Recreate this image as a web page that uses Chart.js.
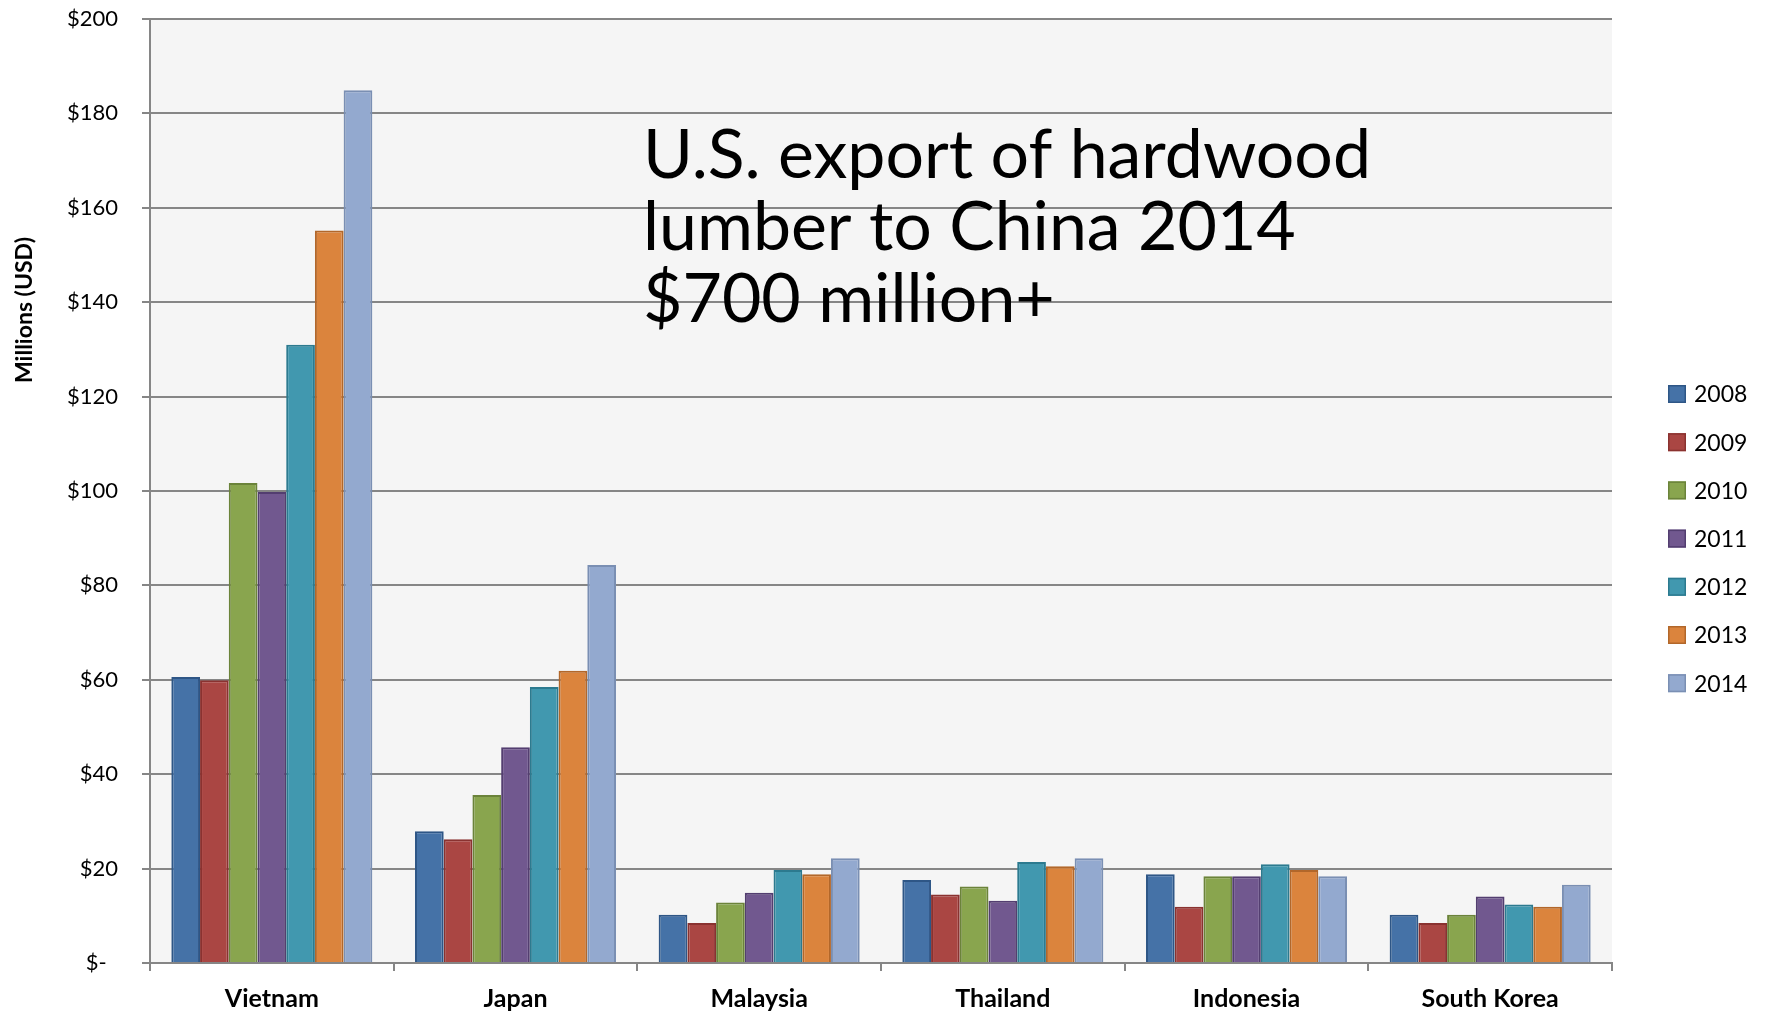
<!DOCTYPE html>
<html>
<head>
<meta charset="utf-8">
<script src="https://cdn.jsdelivr.net/npm/chart.js@4.4.1/dist/chart.umd.min.js"></script>
<style>
  html, body { margin: 0; padding: 0; background: #ffffff; }
  #wrap { width: 1765px; height: 1013px; }
</style>
</head>
<body>
<div id="wrap"><canvas id="hardwoodChart" width="1765" height="1013"></canvas></div>
<script>
// Hardwood lumber exports by destination, millions of USD
const countries = ['Vietnam', 'Japan', 'Malaysia', 'Thailand', 'Indonesia', 'South Korea'];
const years = ['2008', '2009', '2010', '2011', '2012', '2013', '2014'];

const v2008 = [60.6, 27.9, 10.2, 17.6, 18.8, 10.2];
const v2009 = [59.9, 26.2, 8.5, 14.5, 11.9, 8.5];
const v2010 = [101.7, 35.6, 12.8, 16.2, 18.4, 10.2];
const v2011 = [99.8, 45.7, 14.9, 13.2, 18.4, 14.1];
const v2012 = [131.0, 58.5, 19.7, 21.4, 20.9, 12.4];
const v2013 = [155.2, 61.9, 18.8, 20.5, 19.7, 11.9];
const v2014 = [184.9, 84.3, 22.2, 22.2, 18.4, 16.6];

const yTicks = [0, 20, 40, 60, 80, 100, 120, 140, 160, 180, 200];
const yTitle = 'Millions (USD)';
const headline = ['U.S. export of hardwood', 'lumber to China 2014', '$700 million+'];

const fills = ['#4572A7', '#AA4643', '#89A54E', '#71588F', '#4198AF', '#DB843D', '#93A9CF'];
const borders = ['#2E5686', '#8A3230', '#6B833A', '#533E70', '#2C7A8F', '#B2672A', '#7A8FB3'];

const FONT = 'Lato, "Open Sans", sans-serif';
const GRID = '#868686';

const seriesValues = [v2008, v2009, v2010, v2011, v2012, v2013, v2014];

// light grey plot area
const plotBackground = {
    id: 'plotBackground',
    beforeDraw(chart) {
        const { ctx, chartArea: a } = chart;
        ctx.save();
        ctx.fillStyle = '#F5F5F5';
        ctx.fillRect(a.left, a.top, a.right - a.left, a.bottom - a.top);
        ctx.restore();
    }
};

// headline, rotated axis title and the year legend
const extras = {
    id: 'extras',
    afterDraw(chart) {
        const { ctx } = chart;
        ctx.save();
        ctx.fillStyle = '#000000';

        ctx.font = '68px ' + FONT;
        ctx.textAlign = 'left';
        ctx.textBaseline = 'alphabetic';
        headline.forEach((line, i) => ctx.fillText(line, 643, 178 + i * 72));

        ctx.save();
        ctx.translate(32, 310);
        ctx.rotate(-Math.PI / 2);
        ctx.font = 'bold 23px ' + FONT;
        ctx.textAlign = 'center';
        ctx.textBaseline = 'alphabetic';
        ctx.fillText(yTitle, 0, 0);
        ctx.restore();

        ctx.font = '23px ' + FONT;
        ctx.textBaseline = 'middle';
        ctx.textAlign = 'left';
        chart.data.datasets.forEach((ds, i) => {
            const cy = 394 + i * 48.2;
            ctx.fillStyle = ds.backgroundColor;
            ctx.fillRect(1668, cy - 9, 18, 18);
            ctx.strokeStyle = ds.borderColor;
            ctx.lineWidth = 1.5;
            ctx.strokeRect(1668.75, cy - 8.25, 16.5, 16.5);
            ctx.fillStyle = '#000000';
            ctx.fillText(ds.label, 1694, cy + 1);
        });
        ctx.restore();
    }
};

new Chart(document.getElementById('hardwoodChart'), {
    type: 'bar',
    data: {
        labels: countries,
        datasets: years.map((y, i) => ({
            label: y,
            data: seriesValues[i],
            backgroundColor: fills[i],
            borderColor: borders[i],
            borderWidth: 2,
            categoryPercentage: 0.825,
            barPercentage: 1.0
        }))
    },
    options: {
        responsive: false,
        animation: false,
        layout: { padding: { top: 19, right: 153, bottom: 0, left: 0 } },
        plugins: {
            legend: { display: false },
            tooltip: { enabled: false }
        },
        scales: {
            y: {
                min: 0,
                max: 200,
                afterBuildTicks: s => { s.ticks = yTicks.map(v => ({ value: v })); },
                afterFit: s => {
                    s.width = 150;
                    s.paddingTop = 0;
                    s.paddingBottom = 0;
                },
                ticks: {
                    color: '#000000',
                    padding: 24,
                    font: { family: FONT, size: 22 },
                    callback: v => v === 0 ? '$-  ' : '$' + v
                },
                grid: { color: GRID, lineWidth: 2, tickLength: 8 },
                border: { color: GRID, width: 2 }
            },
            x: {
                afterFit: s => {
                    s.height = 50;
                    s.paddingLeft = 0;
                    s.paddingRight = 0;
                },
                ticks: {
                    color: '#000000',
                    padding: 13,
                    maxRotation: 0,
                    font: { family: FONT, size: 25, weight: 'bold' }
                },
                grid: { offset: true, drawOnChartArea: false, color: GRID, lineWidth: 2, tickLength: 8 },
                border: { color: GRID, width: 2 }
            }
        }
    },
    plugins: [plotBackground, extras]
});
</script>
</body>
</html>
